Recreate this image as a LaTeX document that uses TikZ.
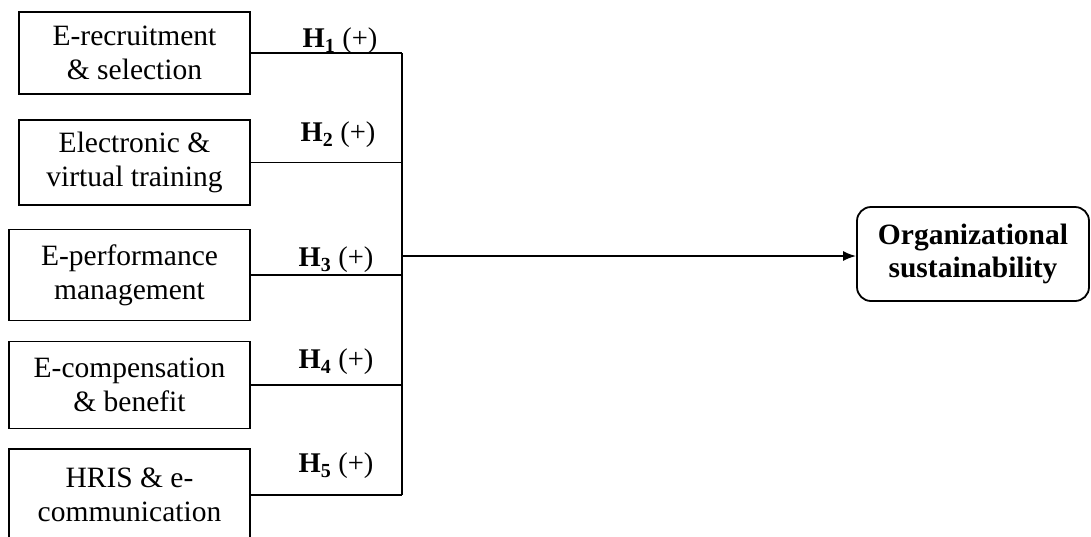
\documentclass[tikz,border=0pt]{standalone}
\usepackage{fontspec}
\setmainfont{Liberation Serif}
\usetikzlibrary{arrows.meta}
\tikzset{
  ivbox/.style={draw, line width=1.8pt, align=center, inner sep=0pt,
    font=\fontsize{29.5}{34}\selectfont},
  dvbox/.style={draw, line width=1.8pt, rounded corners=14pt, align=center, inner sep=0pt,
    font=\fontsize{29.5}{33}\selectfont\bfseries},
  conn/.style={line width=1.8pt},
  hlab/.style={font=\fontsize{28.5}{30}\selectfont, inner sep=0pt}
}
\begin{document}
\begin{tikzpicture}[x=1pt,y=-1pt]
\clip (0,0) rectangle (1091,536);
\fill[white] (0,0) rectangle (1091,536);
\node[ivbox, minimum width=231pt, minimum height=82pt] (b1) at (134.5,53) {E-recruitment\\\& selection};
\node[ivbox, minimum width=231pt, minimum height=85pt] (b2) at (134.5,162.5) {Electronic \&\\virtual training};
\node[ivbox, minimum width=241pt, minimum height=91pt] (b3) at (129.5,275) {E-performance\\management};
\node[ivbox, minimum width=241pt, minimum height=87pt] (b4) at (129.5,385) {E-compensation\\\& benefit};
\node[ivbox, minimum width=241pt, minimum height=92pt] (b5) at (129.5,495) {HRIS \& e-\\communication};
\node[dvbox, minimum width=232pt, minimum height=94pt] (dv) at (973,254) {Organizational\\sustainability};
\coordinate (jx) at (402,0);
\coordinate (ja) at (402,256);
\foreach \b in {b1,b2,b3,b4,b5} {
  \draw[conn] (\b.east) -- (\b.east -| jx);
}
\draw[conn] (b1.east -| jx) -- (b5.east -| jx);
\draw[conn, -{Latex[length=13pt,width=10pt]}] (ja) -- (ja -| dv.west);
\node[hlab] (h1) at (340,41) {\textbf{H\textsubscript{1}} (+)};
\node[hlab] (h2) at (338,135) {\textbf{H\textsubscript{2}} (+)};
\node[hlab] (h3) at (336,260) {\textbf{H\textsubscript{3}} (+)};
\node[hlab] (h4) at (336,362) {\textbf{H\textsubscript{4}} (+)};
\node[hlab] (h5) at (336,466) {\textbf{H\textsubscript{5}} (+)};
\end{tikzpicture}
\end{document}
